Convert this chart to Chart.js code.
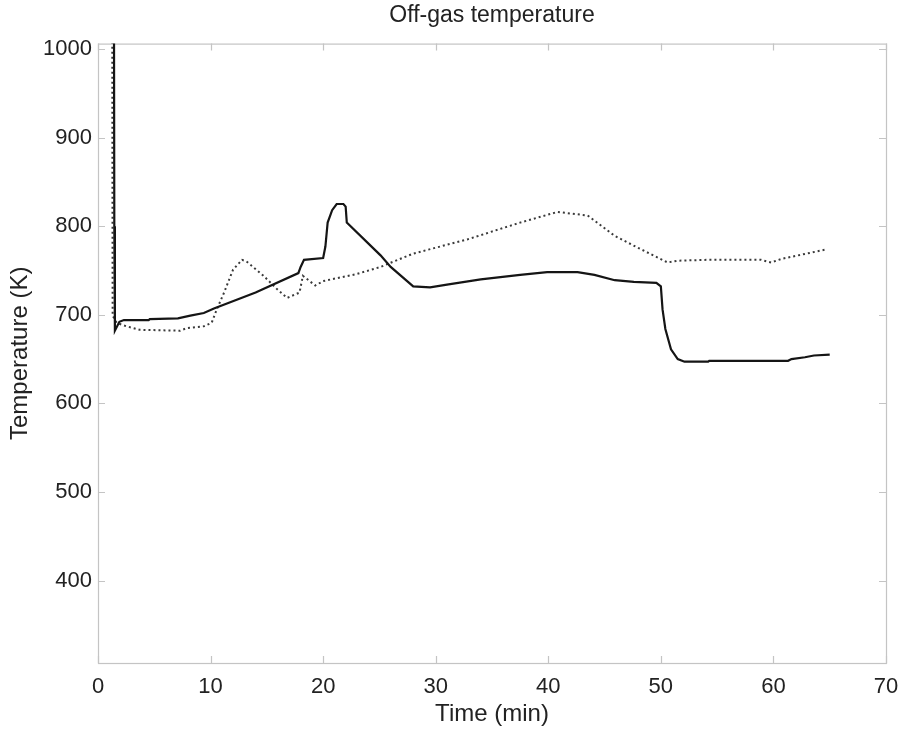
<!DOCTYPE html>
<html>
<head>
<meta charset="utf-8">
<script src="https://cdn.jsdelivr.net/npm/chart.js@4"></script>
<style>
  html, body { margin: 0; padding: 0; background: #fff; }
  #wrap { width: 902px; height: 736px; }
</style>
</head>
<body>
<div id="wrap"><canvas id="myChart" width="902" height="736"></canvas></div>
<script>
// solid line
var timeSolid = [1.4, 1.45, 1.5, 1.9, 2.3, 4.5, 4.6, 7.1, 8.2, 9.4, 10.3, 14.0, 17.8, 18.0, 18.3, 20.0, 20.2, 20.4, 20.8, 21.2, 21.8, 22.0, 22.1,
  25.1, 26.0, 28.0, 29.5, 31.0, 34.0, 37.5, 39.9, 42.6, 44.1, 45.9, 47.6, 49.6, 50.0, 50.15, 50.4, 50.9, 51.5, 52.1, 54.2, 54.3,
  61.3, 61.6, 62.8, 63.6, 65.0];
var tempSolid = [1200, 800, 682, 692, 694, 694, 695, 696, 699, 702, 707, 725, 747, 754, 762, 764, 777, 804, 818, 825, 825, 822, 804,
  767, 754, 732, 731, 734, 740, 745, 748, 748, 745, 739, 737, 736, 732, 706, 684, 661, 650, 647, 647, 648,
  648, 650, 652, 654, 655];

// dotted line
var timeDotted = [1.25, 1.3, 1.66, 2.25, 3.7, 7.3, 7.9, 9.4, 10.1, 10.55, 11.2, 12.0, 12.8, 13.2, 14.7, 15.9, 16.8, 17.9, 18.2,
  19.3, 20.0, 23.0, 25.1, 28.0, 32.8, 37.5, 40.8, 43.5, 45.9, 47.9, 50.6, 51.5, 54.2, 58.9, 59.8, 60.7, 64.8];
var tempDotted = [1200, 699, 691, 688, 683, 682, 685, 687, 691, 706, 725, 751, 762, 760, 744, 729, 719, 725, 744,
  733, 738, 746, 754, 769, 785, 804, 816, 812, 789, 776, 759, 761, 762, 762, 759, 763, 774];

var xTicks = [0, 10, 20, 30, 40, 50, 60, 70];
var yTicks = [400, 500, 600, 700, 800, 900, 1000];

function toPoints(xs, ys) {
  var pts = [];
  for (var i = 0; i < xs.length; i++) {
    pts.push({ x: xs[i], y: ys[i] });
  }
  return pts;
}

// MATLAB style box with inward ticks on all four sides
const boxPlugin = {
  id: 'box',
  beforeDatasetsDraw(chart) {
    var ctx = chart.ctx;
    var a = chart.chartArea;
    var xs = chart.scales.x, ys = chart.scales.y;
    ctx.save();
    ctx.strokeStyle = '#c4c4c4';
    ctx.lineWidth = 1.2;
    ctx.strokeRect(a.left + 0.5, a.top + 0.5, a.right - a.left, a.bottom - a.top);
    ctx.beginPath();
    for (var i = 0; i < xTicks.length; i++) {
      var px = Math.round(xs.getPixelForValue(xTicks[i])) + 0.5;
      ctx.moveTo(px, a.bottom); ctx.lineTo(px, a.bottom - 7);
      ctx.moveTo(px, a.top); ctx.lineTo(px, a.top + 7);
    }
    for (var j = 0; j < yTicks.length; j++) {
      var py = Math.round(ys.getPixelForValue(yTicks[j])) + 0.5;
      ctx.moveTo(a.left, py); ctx.lineTo(a.left + 7, py);
      ctx.moveTo(a.right, py); ctx.lineTo(a.right - 7, py);
    }
    ctx.stroke();
    ctx.restore();
  }
};

const chart_data = {
  datasets: [{
    label: 'Solid',
    data: toPoints(timeSolid, tempSolid),
    borderColor: '#151515',
    borderWidth: 2.2,
    pointRadius: 0,
    tension: 0
  }, {
    label: 'Dotted',
    data: toPoints(timeDotted, tempDotted),
    borderColor: '#3a3a3a',
    borderWidth: 2,
    borderDash: [2, 3],
    pointRadius: 0,
    tension: 0
  }]
};

const config = {
  type: 'line',
  data: chart_data,
  options: {
    responsive: false,
    animation: false,
    layout: { padding: { left: 0, right: 16, top: 0, bottom: 0 } },
    plugins: {
      legend: { display: false },
      tooltip: { enabled: false },
      title: {
        display: true,
        text: 'Off-gas temperature',
        fullSize: false,
        color: '#222',
        font: { family: 'Liberation Sans, Arial, sans-serif', size: 23, weight: 'normal' },
        padding: { top: 2, bottom: 14 }
      }
    },
    scales: {
      x: {
        type: 'linear',
        min: 0,
        max: 70,
        afterBuildTicks: function (axis) {
          axis.ticks = xTicks.map(function (v) { return { value: v }; });
        },
        afterFit: function (axis) {
          axis.height = 73;
          axis.paddingLeft = 0;
          axis.paddingRight = 0;
        },
        grid: { display: false, drawTicks: false },
        border: { display: false },
        ticks: {
          color: '#222',
          padding: 11,
          maxRotation: 0,
          callback: function (v) { return String(v); },
          font: { family: 'Liberation Sans, Arial, sans-serif', size: 22 }
        },
        title: {
          display: true,
          text: 'Time (min)',
          color: '#222',
          font: { family: 'Liberation Sans, Arial, sans-serif', size: 24 },
          padding: { top: 0, bottom: 7 }
        }
      },
      y: {
        min: 307,
        max: 1006,
        afterBuildTicks: function (axis) {
          axis.ticks = yTicks.map(function (v) { return { value: v }; });
        },
        afterFit: function (axis) {
          axis.width = 98;
          axis.paddingTop = 0;
          axis.paddingBottom = 0;
        },
        grid: { display: false, drawTicks: false },
        border: { display: false },
        ticks: {
          color: '#222',
          padding: 6,
          callback: function (v) { return String(v); },
          font: { family: 'Liberation Sans, Arial, sans-serif', size: 22 }
        },
        title: {
          display: true,
          text: 'Temperature (K)',
          color: '#222',
          font: { family: 'Liberation Sans, Arial, sans-serif', size: 24 },
          padding: { top: 6, bottom: 0 }
        }
      }
    }
  },
  plugins: [boxPlugin]
};

const myChart = new Chart(
  document.getElementById('myChart'),
  config
);
</script>
</body>
</html>
